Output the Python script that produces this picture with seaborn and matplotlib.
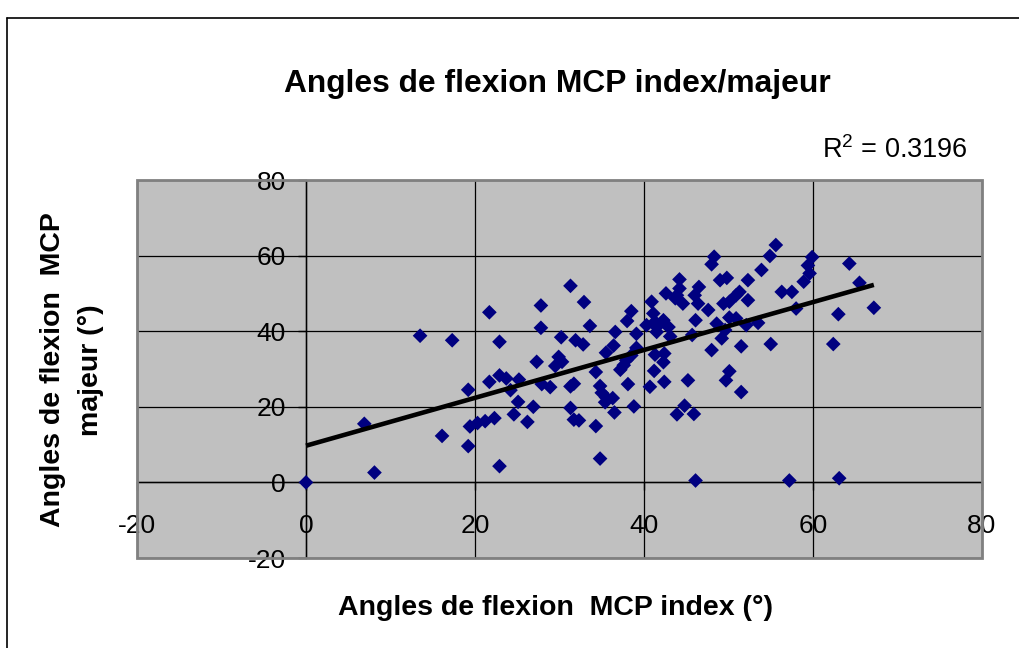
import numpy as np
import pandas as pd
import matplotlib
matplotlib.use("Agg")
import matplotlib.pyplot as plt
from matplotlib.patches import Rectangle
from matplotlib.lines import Line2D
import seaborn as sns

# MCP flexion angles (degrees): index finger vs middle finger
index_deg = [
    0.0, 6.9, 8.1, 13.5, 17.3, 16.1, 19.2, 19.2, 19.4, 20.3,
    21.2, 21.7, 21.7, 22.3, 22.9, 22.9, 22.9, 23.7, 24.2, 24.6,
    25.2, 25.1, 26.2, 26.9, 27.3, 27.8, 27.8, 27.9, 28.9, 29.5,
    29.9, 30.3, 30.2, 31.3, 31.3, 31.7, 31.3, 31.7, 32.3, 31.9,
    32.8, 32.9, 33.6, 34.3, 34.3, 34.8, 34.8, 35.0, 35.5, 35.4,
    36.3, 36.5, 35.5, 36.4, 36.6, 37.2, 37.6, 37.9, 38.0, 38.5,
    38.1, 38.5, 38.8, 39.1, 39.1, 40.3, 40.7, 40.9, 41.1, 41.3,
    41.5, 41.5, 42.3, 42.9, 43.1, 41.3, 42.4, 42.3, 41.2, 42.4,
    42.6, 43.7, 43.9, 44.2, 44.2, 44.6, 46.0, 46.5, 46.4, 47.6,
    48.0, 48.3, 46.1, 45.7, 45.2, 43.9, 44.8, 45.9, 46.1, 48.6,
    49.0, 49.8, 50.1, 50.9, 49.6, 49.2, 48.0, 49.4, 50.1, 50.9,
    51.3, 52.3, 52.3, 52.1, 53.5, 51.5, 50.1, 49.7, 51.5, 53.9,
    54.9, 55.6, 55.0, 56.3, 57.5, 58.0, 57.2, 58.9, 59.6, 59.4,
    59.9, 62.4, 63.0, 63.1, 64.3, 65.5, 67.2,
]
majeur_deg = [
    0.0, 15.5, 2.6, 38.8, 37.6, 12.3, 24.5, 9.6, 14.8, 15.7,
    16.2, 45.0, 26.6, 17.0, 37.2, 4.3, 28.3, 27.5, 24.4, 18.0,
    27.2, 21.3, 16.0, 20.0, 31.9, 46.8, 40.9, 26.0, 25.2, 30.8,
    33.2, 31.9, 38.4, 52.0, 25.4, 26.1, 19.7, 16.6, 16.4, 37.6,
    36.5, 47.7, 41.4, 29.2, 14.9, 6.3, 25.5, 23.7, 22.5, 21.2,
    22.3, 18.5, 34.3, 36.2, 39.8, 29.8, 31.0, 32.3, 42.7, 45.3,
    26.0, 33.6, 20.1, 39.3, 35.6, 41.6, 25.3, 47.8, 44.7, 42.5,
    41.1, 39.8, 42.9, 41.1, 38.6, 33.8, 34.1, 31.8, 29.5, 26.6,
    50.0, 48.7, 49.5, 51.3, 53.7, 47.3, 49.5, 51.7, 47.3, 45.6,
    57.7, 59.7, 42.9, 39.0, 27.0, 18.0, 20.3, 18.1, 0.5, 42.0,
    53.5, 54.1, 43.6, 43.4, 40.3, 38.1, 35.0, 47.3, 47.8, 49.5,
    50.4, 53.5, 48.2, 41.6, 42.2, 36.0, 29.4, 27.0, 23.9, 56.2,
    59.9, 62.8, 36.6, 50.4, 50.4, 46.0, 0.5, 53.1, 55.3, 57.4,
    59.6, 36.6, 44.5, 1.1, 57.9, 52.8, 46.2,
]

axis_ticks = [-20, 0, 20, 40, 60, 80]
tick_labels = ["-20", "0", "20", "40", "60", "80"]

title_text = "Angles de flexion MCP index/majeur"
x_label = "Angles de flexion  MCP index (°)"
y_label = "Angles de flexion  MCP\nmajeur (°)"
r2_text = r"R$^{\mathregular{2}}$ = 0.3196"

df = pd.DataFrame({"index": index_deg, "majeur": majeur_deg})

sns.set_theme(style="white")
plt.rcParams["font.family"] = ["Liberation Sans", "DejaVu Sans"]
plt.rcParams["axes.unicode_minus"] = False
for key in ("text.color", "axes.labelcolor", "xtick.color", "ytick.color"):
    plt.rcParams[key] = "black"

W, H = 1019, 648
fig = plt.figure(figsize=(W / 100, H / 100), dpi=100)
fig.patch.set_facecolor("white")

left, right, top, bottom = 137, 982, 180, 558
ax = fig.add_axes([left / W, 1 - bottom / H, (right - left) / W, (bottom - top) / H])
ax.set_facecolor("#C0C0C0")

sns.regplot(
    data=df, x="index", y="majeur", ax=ax, ci=None, marker="D",
    scatter_kws=dict(s=56, color="#000080", edgecolors="none", alpha=1, zorder=3),
    line_kws=dict(color="black", lw=3.3, zorder=4, solid_capstyle="butt"),
)

ax.set_xlim(-20, 80)
ax.set_ylim(-20, 80)
ax.set_xticks(axis_ticks)
ax.set_yticks(axis_ticks)
ax.set_xticklabels(tick_labels)
ax.set_yticklabels(tick_labels)
ax.set_xlabel("")
ax.set_ylabel("")

# gridlines behind the data
ax.set_axisbelow(True)
ax.grid(True, color="black", lw=0.9)

# axes cross at the origin
for side in ("left", "bottom"):
    ax.spines[side].set_position(("data", 0))
    ax.spines[side].set_color("black")
    ax.spines[side].set_linewidth(1.0)
    ax.spines[side].set_zorder(2.5)
for side in ("top", "right"):
    ax.spines[side].set_visible(False)

ax.tick_params(axis="y", direction="out", length=6, width=1, color="black",
               labelsize=19, pad=8.5, labelcolor="black", left=True)
ax.tick_params(axis="x", direction="out", length=6, width=1, color="black",
               labelsize=19, pad=16.5, labelcolor="black", bottom=True)

# plot-area border
ax.add_patch(Rectangle((0, 0), 1, 1, transform=ax.transAxes, fill=False,
                       edgecolor="#808080", lw=2, zorder=5, clip_on=False))

# chart frame
fig.add_artist(Line2D([7 / W, 1], [1 - 18 / H, 1 - 18 / H], color="black", lw=1.2))
fig.add_artist(Line2D([7 / W, 7 / W], [0, 1 - 18 / H], color="black", lw=1.2))

fig.text(557 / W, 1 - 84 / H, title_text, ha="center", va="center",
         fontsize=22.9, fontweight="bold")
fig.text(968 / W, 1 - 150 / H, r2_text, ha="right", va="center", fontsize=19.5)
fig.text(555 / W, 1 - 608 / H, x_label, ha="center", va="center",
         fontsize=20.5, fontweight="bold")
fig.text(72 / W, 1 - 370 / H, y_label, ha="center", va="center", rotation=90,
         fontsize=20.5, fontweight="bold", multialignment="center", linespacing=1.55)

fig.savefig("out.png", dpi=100, facecolor="white")
